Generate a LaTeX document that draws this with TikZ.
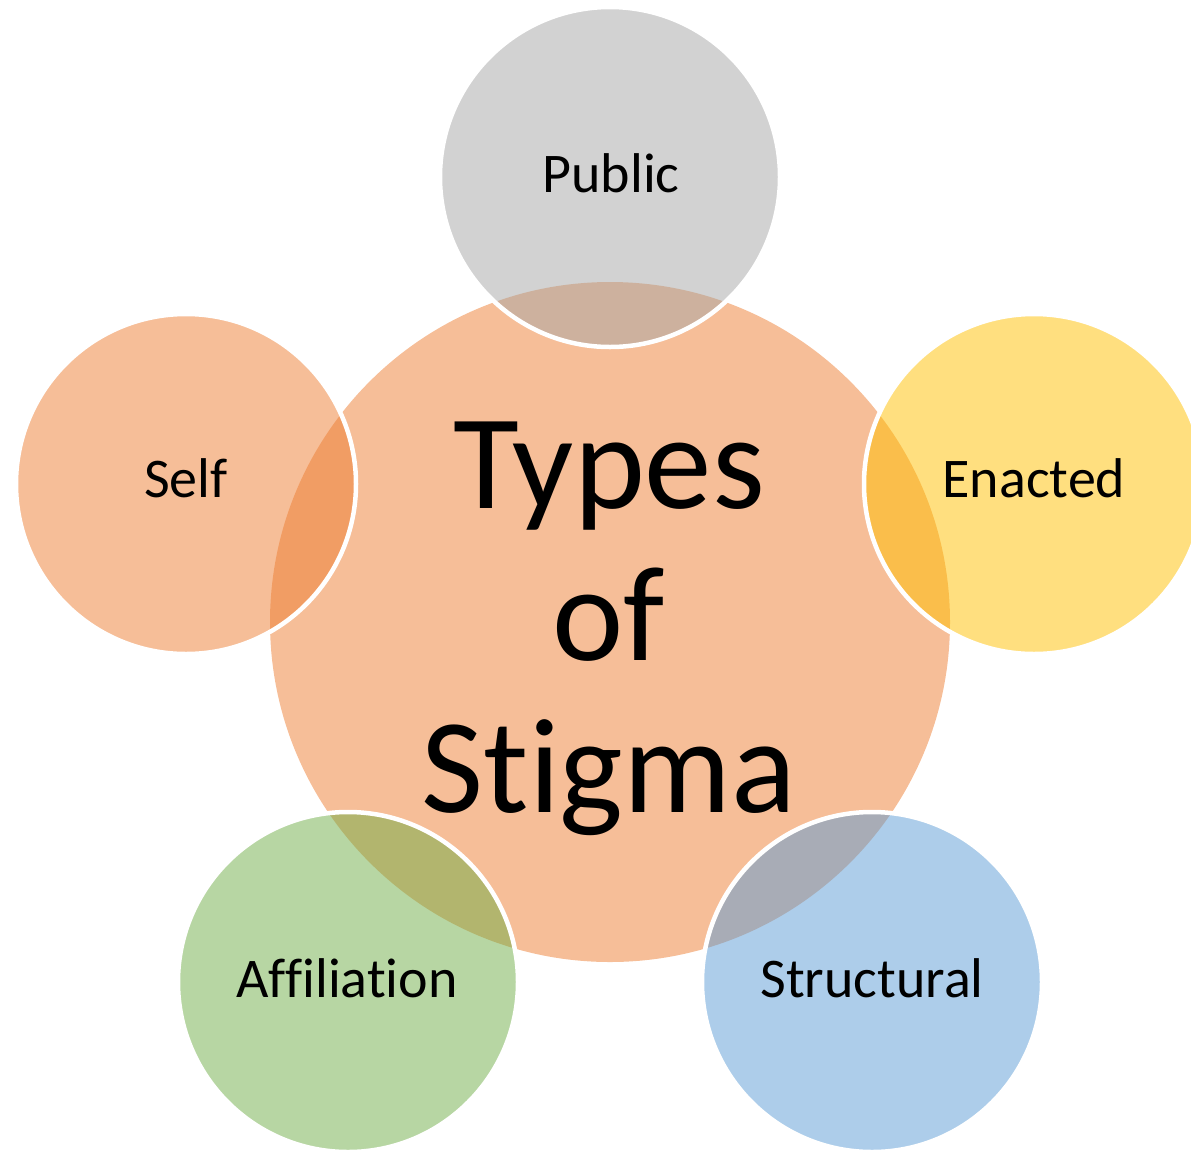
\documentclass[tikz,border=0pt]{standalone}
\usepackage{fontspec}
\setmainfont{Carlito}[Ligatures={NoCommon,NoRare,NoContextual}]
\begin{document}
\begin{tikzpicture}[x=1pt,y=-1pt,
  hub/.style={circle, minimum size=680pt, inner sep=0pt, fill=#1, fill opacity=0.5, draw=none},
  petal/.style={circle, minimum size=340pt, inner sep=0pt, fill=#1, fill opacity=0.5,
                draw=white, draw opacity=1, line width=4.5pt},
  petallabel/.style={anchor=base, font=\fontsize{56}{66}\selectfont, text=black, inner sep=0pt},
]
\definecolor{accorange}{RGB}{237,125,49}
\definecolor{accgray}{RGB}{165,165,165}
\definecolor{accgold}{RGB}{255,192,0}
\definecolor{accblue}{RGB}{91,155,213}
\definecolor{accgreen}{RGB}{112,173,71}
\useasboundingbox (0,0) rectangle (1191,1152);

% central circle
\node[hub=accorange] (hub) at (610,622) {};

% surrounding circles on a pentagon of radius 446
\node[petal=accgray]   (public)      at (610,177) {};
\node[petal=accorange] (self)        at (186,484) {};
\node[petal=accgold]   (enacted)     at (1034,484) {};
\node[petal=accgreen]  (affiliation) at (348,982) {};
\node[petal=accblue]   (structural)  at (872,982) {};

% labels
\node[anchor=center, align=center, inner sep=0pt,
      font=\fontsize{135}{152}\selectfont] (title) at (609,629) {Types\\of\\Stigma};
\node[petallabel] (publicl)      at (611,192) {Public};
\node[petallabel] (selfl)        at (186,497) {Self};
\node[petallabel] (enactedl)     at (1034,497) {Enacted};
\node[petallabel] (affiliationl) at (347,997) {Affiliation};
\node[petallabel] (structurall)  at (872,997) {Structural};
\end{tikzpicture}
\end{document}
